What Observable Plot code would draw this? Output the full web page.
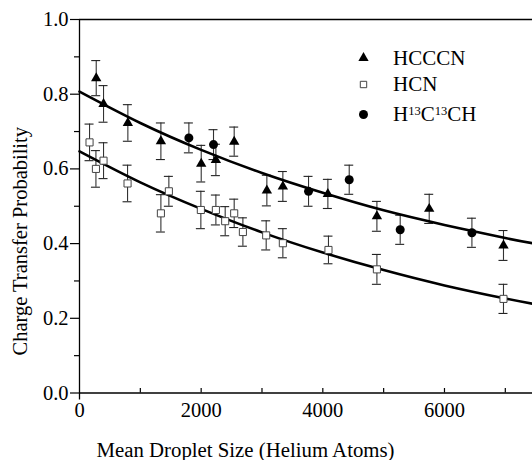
<!DOCTYPE html>
<html><head><meta charset="utf-8">
<script src="https://cdn.jsdelivr.net/npm/d3@7"></script>
<script src="https://cdn.jsdelivr.net/npm/@observablehq/plot@0.6"></script>
<style>html,body{margin:0;padding:0;background:#fff}#chart svg{display:block}</style>
</head><body><div id="chart"></div>
<script>
// HCCCN (filled triangles)
const hcccnX   = [275, 395, 795, 1338, 2001, 2242, 2543, 3080, 3343, 4083, 4889, 5749, 6970];
const hcccnY   = [0.843, 0.774, 0.723, 0.674, 0.614, 0.624, 0.673, 0.542, 0.553, 0.533, 0.473, 0.493, 0.395];
const hcccnErr = [0.047, 0.049, 0.049, 0.049, 0.049, 0.042, 0.039, 0.041, 0.040, 0.039, 0.040, 0.039, 0.040];
// HCN (open squares)
const hcnX   = [165, 270, 395, 790, 1338, 1469, 1995, 2242, 2395, 2543, 2686, 3069, 3343, 4093, 4889, 6970];
const hcnY   = [0.671, 0.600, 0.622, 0.561, 0.481, 0.540, 0.490, 0.490, 0.460, 0.481, 0.431, 0.422, 0.401, 0.383, 0.331, 0.252];
const hcnErr = [0.049, 0.049, 0.048, 0.049, 0.050, 0.040, 0.050, 0.040, 0.039, 0.038, 0.038, 0.039, 0.039, 0.037, 0.040, 0.039];
// H13C13CH (filled circles)
const acetX   = [1798, 2203, 3765, 4434, 5272, 6451];
const acetY   = [0.683, 0.665, 0.540, 0.571, 0.437, 0.429];
const acetErr = [0.040, 0.040, 0.040, 0.039, 0.039, 0.039];
// fitted curves
const fitX     = [0, 1000, 2000, 3000, 4000, 5000, 6000, 7000, 7447];
const fitUpper = [0.807, 0.723, 0.651, 0.589, 0.536, 0.489, 0.450, 0.415, 0.401];
const fitLower = [0.647, 0.564, 0.493, 0.430, 0.376, 0.329, 0.288, 0.253, 0.239];
// axes
const xDomain = [0, 7447];
const xMajorTicks = [0, 2000, 4000, 6000];
const xMinorTicks = [1000, 3000, 5000, 7000];
const yMajorTicks = [0, 0.2, 0.4, 0.6, 0.8, 1.0];
const yMinorTicks = [0.1, 0.3, 0.5, 0.7, 0.9];
const legendLabels = ["HCCCN", "HCN", "H13C13CH"];
const xTitle = "Mean Droplet Size (Helium Atoms)";
const yTitle = "Charge Transfer Probability";

const rows = (xs, ys, es) => xs.map((x, i) => ({x, y: ys[i], e: es[i]}));
const tri = rows(hcccnX, hcccnY, hcccnErr);
const sq = rows(hcnX, hcnY, hcnErr);
const circ = rows(acetX, acetY, acetErr);
const allErr = [...tri, ...sq, ...circ];
const upper = fitX.map((x, i) => ({x, y: fitUpper[i]}));
const lower = fitX.map((x, i) => ({x, y: fitLower[i]}));

const FONT = "Liberation Serif";
const legendRowsDy = [38.5, 65, 95];
const legendSymbols = [
  {symbol: "triangle", r: 3.8, fill: "black", stroke: "none"},
  {symbol: "square", r: 3.6, fill: "white", stroke: "#444"},
  {symbol: "circle", r: 4.5, fill: "black", stroke: "none"}
];

const legendMarks = legendLabels.flatMap((lab, i) => [
  Plot.dot([lab], {frameAnchor: "top-right", dx: -169, dy: legendRowsDy[i], ...legendSymbols[i], strokeWidth: 1}),
  Plot.text([lab], {frameAnchor: "top-right", dx: -139.5, dy: legendRowsDy[i], text: d => d, textAnchor: "start", lineAnchor: "middle", fontSize: 21, fontFamily: FONT, fill: "black"})
]);

const plot = Plot.plot({
  width: 532, height: 460,
  marginLeft: 79, marginRight: 0, marginTop: 19, marginBottom: 67.5,
  x: {domain: xDomain},
  y: {domain: [0, 1]},
  style: {fontFamily: FONT, fontSize: "20px", background: "white", color: "black", overflow: "visible"},
  marks: [
    // error bars
    Plot.ruleX(allErr, {x: "x", y1: d => d.y - d.e, y2: d => d.y + d.e, stroke: "#333", strokeWidth: 1.1}),
    Plot.ruleY(allErr, {y: d => d.y + d.e, x1: "x", x2: "x", insetLeft: -4.5, insetRight: -4.5, stroke: "#222", strokeWidth: 1.1}),
    Plot.ruleY(allErr, {y: d => d.y - d.e, x1: "x", x2: "x", insetLeft: -4.5, insetRight: -4.5, stroke: "#222", strokeWidth: 1.1}),
    // fitted curves
    Plot.line(upper, {x: "x", y: "y", curve: "natural", stroke: "black", strokeWidth: 2.6}),
    Plot.line(lower, {x: "x", y: "y", curve: "natural", stroke: "black", strokeWidth: 2.6}),
    // markers
    Plot.dot(sq, {x: "x", y: "y", symbol: "square", r: 4, fill: "white", stroke: "#444", strokeWidth: 1}),
    Plot.dot(tri, {x: "x", y: "y", symbol: "triangle", r: 3.85, fill: "black", stroke: "none"}),
    Plot.dot(circ, {x: "x", y: "y", symbol: "circle", r: 4.5, fill: "black", stroke: "none"}),
    // frame lines
    Plot.ruleY([1], {stroke: "black", strokeWidth: 1.3}),
    Plot.ruleY([0], {stroke: "black", strokeWidth: 1.3}),
    Plot.ruleX([0], {stroke: "black", strokeWidth: 1.3, insetBottom: -7}),
    // inward x ticks
    Plot.ruleX([...xMajorTicks.slice(1), ...xMinorTicks], {stroke: "black", strokeWidth: 1.2, insetTop: 369}),
    // axes
    Plot.axisX(xMajorTicks, {tickSize: 0, tickPadding: 9, tickFormat: d => String(d), fontSize: 20.5, fontFamily: FONT, label: null}),
    Plot.axisY(yMajorTicks, {tickSize: 9, tickPadding: 2, tickFormat: d3.format(".1f"), fontSize: 20.5, fontFamily: FONT, strokeWidth: 1.2, label: null}),
    Plot.axisY(yMinorTicks, {tickSize: 5, tickFormat: () => "", strokeWidth: 1.2, label: null}),
    // titles
    Plot.text([yTitle], {frameAnchor: "left", rotate: -90, dx: -59, dy: 35, text: d => d, textAnchor: "middle", lineAnchor: "middle", fontSize: 20.5, fontFamily: FONT, fill: "black"}),
    Plot.text([xTitle], {frameAnchor: "bottom", dx: -60.5, dy: 57, text: d => d, textAnchor: "middle", lineAnchor: "middle", fontSize: 20.8, fontFamily: FONT, fill: "black"}),
    ...legendMarks
  ]
});
document.getElementById("chart").appendChild(plot);

// superscripts for H13C13CH
d3.select(plot).selectAll("text").each(function() {
  if (this.textContent === "H13C13CH") {
    const t = d3.select(this);
    t.text(null);
    const parts = [["H", 0, null], ["13", -6, 12.5], ["C", 6, null], ["13", -6, 12.5], ["CH", 6, null]];
    parts.forEach(([s, dy, fs]) => {
      const ts = t.append("tspan").text(s);
      if (dy) ts.attr("dy", dy);
      if (fs) ts.attr("font-size", fs);
    });
  }
});
</script>
</body></html>
